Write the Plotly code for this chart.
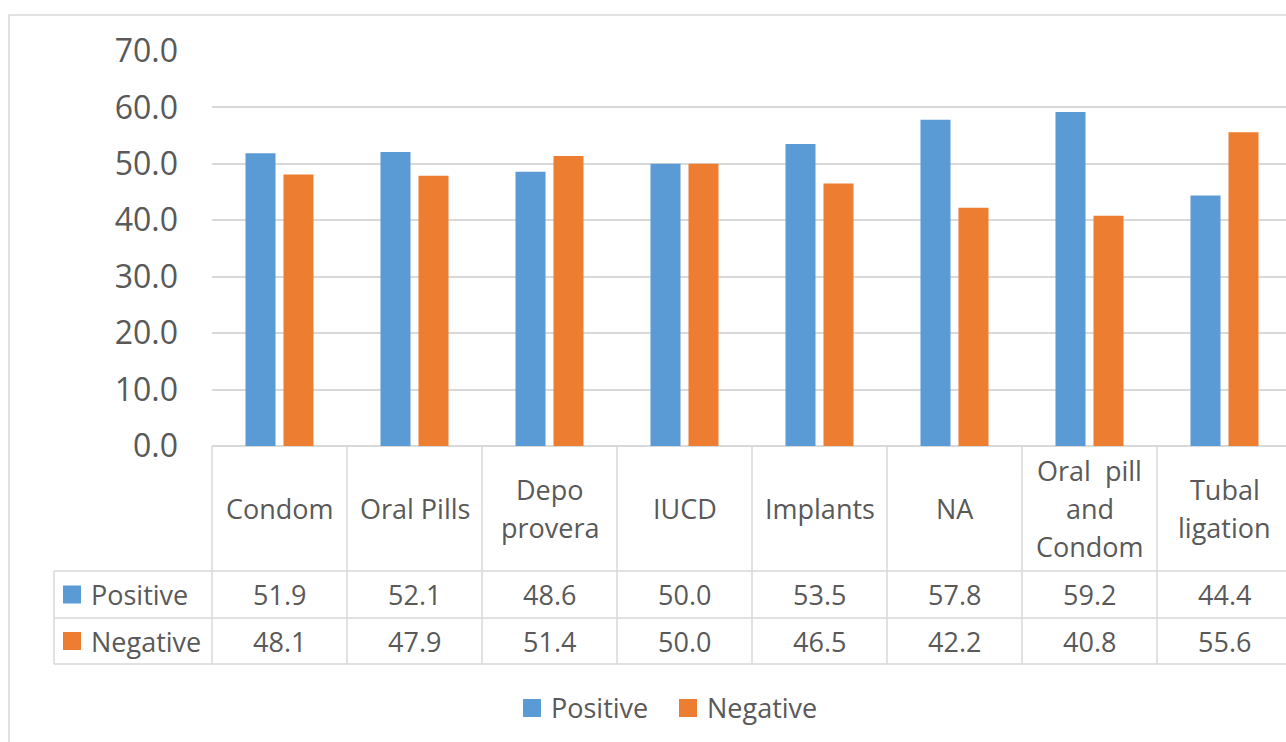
import plotly.graph_objects as go

categories = ["Condom", "Oral Pills", "Depo<br>provera", "IUCD", "Implants", "NA",
              "Oral  pill<br>and<br>Condom", "Tubal<br>ligation"]
positive = [51.9, 52.1, 48.6, 50.0, 53.5, 57.8, 59.2, 44.4]
negative = [48.1, 47.9, 51.4, 50.0, 46.5, 42.2, 40.8, 55.6]
y_ticks = [0, 10, 20, 30, 40, 50, 60, 70]

BLUE = "#5B9BD5"
ORANGE = "#ED7D31"
GRID = "#D9D9D9"
TXT = "#595959"
FONT = "Open Sans"

W, H = 1286, 742
L, T, B = 212, 51, 296
PW, PH = W - L, H - T - B
CAT_W = 135.0
LINE_H = 38.0
x_min = -0.5
x_max = -0.5 + PW / CAT_W


def px(p):
    return (p - L) / PW


def py(p):
    return (H - B - p) / PH


def cx(k):
    # paper x of a category boundary (k - 0.5 in data units)
    return (k - 0.5 - x_min) / (x_max - x_min)


idx = list(range(len(categories)))
fig = go.Figure()
fig.add_trace(go.Bar(x=idx, y=positive, name="Positive", marker_color=BLUE,
                     marker_line_width=0))
fig.add_trace(go.Bar(x=idx, y=negative, name="Negative", marker_color=ORANGE,
                     marker_line_width=0))

shapes = []
line = dict(color=GRID, width=1.5)
# outer chart border
shapes.append(dict(type="rect", xref="paper", yref="paper",
                   x0=px(9), x1=px(W + 20), y0=py(H + 20), y1=py(15), line=line))
# data table grid
for yy in [571, 618, 664]:
    shapes.append(dict(type="line", xref="paper", yref="paper",
                       x0=px(54), x1=px(W + 10), y0=py(yy), y1=py(yy), line=line))
shapes.append(dict(type="line", xref="paper", yref="paper",
                   x0=px(54), x1=px(54), y0=py(571), y1=py(664), line=line))
for k in range(len(categories)):
    shapes.append(dict(type="line", xref="paper", yref="paper",
                       x0=cx(k), x1=cx(k), y0=py(446), y1=py(664), line=line))

annotations = []
tf = dict(family=FONT, size=27, color=TXT)
for k, c in enumerate(categories):
    parts = c.split("<br>")
    n = len(parts)
    for i, part in enumerate(parts):
        yc = 508.5 + (i - (n - 1) / 2) * LINE_H
        annotations.append(dict(x=k, y=py(yc), xref="x", yref="paper", text=part,
                                showarrow=False, font=tf, xanchor="center",
                                yanchor="middle", align="center"))
    annotations.append(dict(x=k, y=py(594.5), xref="x", yref="paper",
                            text=f"{positive[k]:.1f}", showarrow=False, font=tf,
                            xanchor="center", yanchor="middle"))
    annotations.append(dict(x=k, y=py(641), xref="x", yref="paper",
                            text=f"{negative[k]:.1f}", showarrow=False, font=tf,
                            xanchor="center", yanchor="middle"))

# row labels with colour keys
for name, color, yc in [("Positive", BLUE, 594.5), ("Negative", ORANGE, 641)]:
    shapes.append(dict(type="rect", xref="paper", yref="paper",
                       x0=px(63), x1=px(81), y0=py(yc + 9), y1=py(yc - 9),
                       fillcolor=color, line=dict(width=0)))
    annotations.append(dict(x=px(89), y=py(yc), xref="paper", yref="paper",
                            text=name, showarrow=False, font=tf,
                            xanchor="left", yanchor="middle"))

# bottom legend
for name, color, x0 in [("Positive", BLUE, 523), ("Negative", ORANGE, 679)]:
    shapes.append(dict(type="rect", xref="paper", yref="paper",
                       x0=px(x0), x1=px(x0 + 18), y0=py(717), y1=py(699),
                       fillcolor=color, line=dict(width=0)))
    annotations.append(dict(x=px(x0 + 26), y=py(707), xref="paper", yref="paper",
                            text=name, showarrow=False, font=tf,
                            xanchor="left", yanchor="middle"))

fig.update_layout(
    width=W, height=H,
    margin=dict(l=L, r=0, t=T, b=B, pad=0),
    paper_bgcolor="white", plot_bgcolor="white",
    barmode="group", bargap=0.437, bargroupgap=0.21,
    showlegend=False,
    shapes=shapes, annotations=annotations,
    xaxis=dict(range=[x_min, x_max], showticklabels=False, showgrid=False,
               zeroline=False, showline=False, ticks=""),
    yaxis=dict(range=[0, 70], tickvals=y_ticks,
               ticktext=[f"{v:.1f}" for v in y_ticks],
               showgrid=True, gridcolor=GRID, gridwidth=1.5,
               zeroline=True, zerolinecolor=GRID, zerolinewidth=1.5,
               showline=False, ticks="", ticklabelstandoff=33,
               tickfont=dict(family=FONT, size=32, color=TXT)),
)

fig.write_html("out.html")
